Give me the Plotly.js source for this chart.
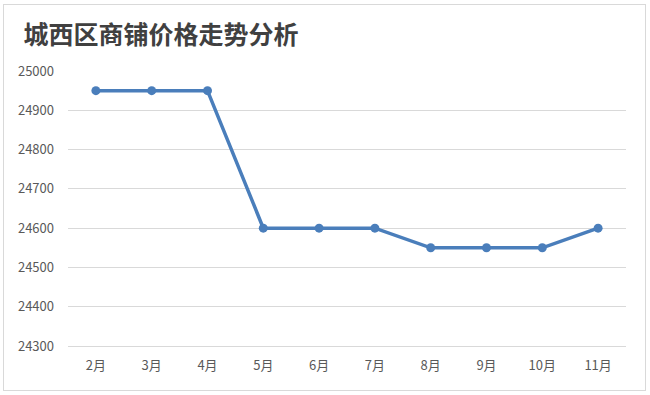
<!DOCTYPE html>
<html><head><meta charset="utf-8">
<script src="https://cdn.plot.ly/plotly-3.0.1.min.js"></script>
<style>
html,body{margin:0;padding:0;background:#fff;}
#wrap{position:relative;width:650px;height:395px;}
#chart{width:650px;height:395px;}
#frame{position:absolute;left:3px;top:4px;width:641px;height:385px;border:1px solid #d9d9d9;pointer-events:none;}
</style></head>
<body>
<div id="wrap"><div id="chart"></div><div id="frame"></div></div>
<script>
const months = ["2月","3月","4月","5月","6月","7月","8月","9月","10月","11月"];
const prices = [24950,24950,24950,24600,24600,24600,24550,24550,24550,24600];
const yTicks = [24300,24400,24500,24600,24700,24800,24900,25000];

Plotly.newPlot('chart',[{
  x: months, y: prices, type:'scatter', mode:'lines+markers',
  line:{color:'#4a7ebb',width:3.5},
  marker:{color:'#4a7ebb',size:9},
  hoverinfo:'none'
}],{
  width:650,height:395,
  margin:{l:68,r:24,t:71,b:49},
  paper_bgcolor:'#fff',plot_bgcolor:'#fff',
  showlegend:false,
  title:{text:'<b>城西区商铺价格走势分析</b>',x:0.036,xanchor:'left',y:0.91,yanchor:'middle',
    font:{family:'Noto Sans CJK SC, sans-serif',size:25,color:'#404040'}},
  xaxis:{type:'category',range:[-0.5,9.5],showgrid:false,zeroline:false,
    showline:true,linecolor:'#d9d9d9',linewidth:1,
    ticks:'',tickfont:{family:'Noto Sans CJK SC, sans-serif',size:13,color:'#595959'},ticklabelstandoff:7},
  yaxis:{range:[24300,25000],tickvals:yTicks,ticktext:yTicks.map(String),
    showgrid:true,gridcolor:'#d9d9d9',gridwidth:1,zeroline:false,showline:false,ticks:'',
    tickfont:{family:'Noto Sans CJK SC, sans-serif',size:13,color:'#595959'},ticklabelstandoff:13}
},{staticPlot:true});
</script>
</body></html>
